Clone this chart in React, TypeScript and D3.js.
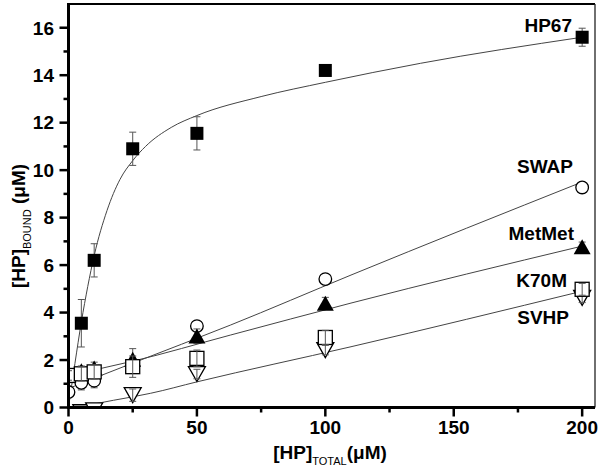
import React from "react";
import * as d3 from "d3";

// ---- data ----
const HP67_X = [5, 10, 25, 50, 100, 200];
const HP67_Y = [3.55, 6.2, 10.9, 11.55, 14.2, 15.6];
const HP67_ERR = [1.0, 0.7, 0.7, 0.7, 0.2, 0.38];

const SWAP_X = [0, 5, 10, 25, 50, 100, 200];
const SWAP_Y = [0.65, 1.04, 1.13, 1.75, 3.43, 5.41, 9.27];
const SWAP_ERR = [0.2, 0.3, 0.3, 0.3, 0.2, 0.2, 0.15];

const METMET_X = [5, 10, 25, 50, 100, 200];
const METMET_Y = [1.55, 1.66, 2.03, 3.01, 4.39, 6.77];
const METMET_ERR = [0.2, 0.25, 0.45, 0.3, 0.25, 0.2];

const K70M_X = [0, 5, 10, 25, 50, 100, 200];
const K70M_Y = [1.35, 1.42, 1.5, 1.72, 2.07, 2.95, 4.98];
const K70M_ERR = [0.2, 0.3, 0.3, 0.45, 0.35, 0.3, 0.25];

const SVHP_X = [5, 10, 25, 50, 100, 200];
const SVHP_Y = [-0.2, -0.12, 0.52, 1.41, 2.42, 4.62];
const SVHP_ERR = [0.1, 0.1, 0.26, 0.2, 0.2, 0.2];

// fitted curves, read as points along the drawn lines
const FIT_HP67_X = [0, 2.5, 5, 7.5, 10, 15, 20, 25, 30, 40, 50, 75, 100, 137, 200];
const FIT_HP67_Y = [0, 1.85, 3.6, 5.1, 6.4, 8.3, 9.6, 10.4, 11.0, 11.8, 12.3, 13.1, 13.7, 14.5, 15.6];
const FIT_SWAP_X = [0, 12, 25, 63, 110, 200];
const FIT_SWAP_Y = [0.8, 1.32, 1.87, 3.47, 5.58, 9.5];
const FIT_METMET_X = [0, 12, 25, 63, 110, 200];
const FIT_METMET_Y = [1.3, 1.63, 1.95, 3.05, 4.4, 6.8];
const FIT_SVHP_X = [0, 5, 10, 25, 32, 50, 110, 200];
const FIT_SVHP_Y = [0, 0.03, 0.15, 0.45, 0.6, 1.08, 2.56, 4.9];

const X_TICKS = [0, 50, 100, 150, 200];
const X_MINOR = [25, 75, 125, 175];
const Y_TICKS = [0, 2, 4, 6, 8, 10, 12, 14, 16];
const Y_MINOR = [1, 3, 5, 7, 9, 11, 13, 15];

const SERIES_NAMES = ["HP67", "SWAP", "MetMet", "K70M", "SVHP"];

const FONT = "'Liberation Sans', Arial, sans-serif";

type Pt = { x: number; y: number; e: number };
const zipPts = (xs: number[], ys: number[], es: number[]): Pt[] =>
  xs.map((x, i) => ({ x, y: ys[i], e: es[i] }));
const zipLine = (xs: number[], ys: number[]): [number, number][] =>
  xs.map((x, i) => [x, ys[i]]);

export default function App() {
  const W = 600;
  const H = 470;
  const left = 68.5;
  const right = 595;
  const top = 4;
  const bottom = 407.5;

  const x = d3.scaleLinear().domain([0, 205]).range([left, right]);
  const y = d3.scaleLinear().domain([0, 17]).range([bottom, top]);

  const line = d3
    .line<[number, number]>()
    .x((d) => x(d[0]))
    .y((d) => y(d[1]))
    .curve(d3.curveMonotoneX);

  const fits = [
    zipLine(FIT_HP67_X, FIT_HP67_Y),
    zipLine(FIT_SWAP_X, FIT_SWAP_Y),
    zipLine(FIT_METMET_X, FIT_METMET_Y),
    zipLine(FIT_SVHP_X, FIT_SVHP_Y),
  ];

  const hp67 = zipPts(HP67_X, HP67_Y, HP67_ERR);
  const swap = zipPts(SWAP_X, SWAP_Y, SWAP_ERR);
  const metmet = zipPts(METMET_X, METMET_Y, METMET_ERR);
  const k70m = zipPts(K70M_X, K70M_Y, K70M_ERR);
  const svhp = zipPts(SVHP_X, SVHP_Y, SVHP_ERR);

  const errBar = (p: Pt, key: string) => {
    const cx = x(p.x);
    const y1 = y(p.y + p.e);
    const y2 = y(p.y - p.e);
    return (
      <g key={key} stroke="#555" strokeWidth={1}>
        <line x1={cx} x2={cx} y1={y1} y2={y2} />
        <line x1={cx - 3.5} x2={cx + 3.5} y1={y1} y2={y1} />
        <line x1={cx - 3.5} x2={cx + 3.5} y1={y2} y2={y2} />
      </g>
    );
  };

  const tri = (cx: number, cy: number, w: number, h: number, up: boolean) =>
    up
      ? `M${cx - w / 2},${cy + h / 2}L${cx + w / 2},${cy + h / 2}L${cx},${cy - h / 2}Z`
      : `M${cx - w / 2},${cy - h / 2}L${cx + w / 2},${cy - h / 2}L${cx},${cy + h / 2}Z`;

  const labelPos: Record<string, [number, number]> = {
    HP67: [572, 32],
    SWAP: [573, 173],
    MetMet: [574, 240],
    K70M: [567, 287],
    SVHP: [569, 324],
  };

  return (
    <svg
      width={W}
      height={H}
      style={{ position: "absolute", left: 0, top: 0, background: "#fff" }}
      fontFamily={FONT}
    >
      <rect x={0} y={0} width={W} height={H} fill="#fff" />
      <defs>
        <clipPath id="plotClip">
          <rect x={left} y={top} width={right - left} height={bottom - top} />
        </clipPath>
      </defs>

      <g clipPath="url(#plotClip)">
        {fits.map((f, i) => (
          <path key={"fit" + i} d={line(f) || ""} fill="none" stroke="#444" strokeWidth={1} />
        ))}

        {/* HP67 filled squares */}
        {hp67.map((p, i) => errBar(p, "e1" + i))}
        {hp67.map((p, i) => (
          <rect key={"m1" + i} x={x(p.x) - 6.5} y={y(p.y) - 6.5} width={13} height={13} fill="#000" />
        ))}

        {/* SWAP open circles */}
        {swap.map((p, i) => errBar(p, "e2" + i))}
        {swap.map((p, i) => (
          <circle key={"m2" + i} cx={x(p.x)} cy={y(p.y)} r={6.3} fill="#fff" stroke="#000" strokeWidth={1.3} />
        ))}

        {/* MetMet filled triangles */}
        {metmet.map((p, i) => errBar(p, "e3" + i))}
        {metmet.map((p, i) => (
          <path key={"m3" + i} d={tri(x(p.x), y(p.y), 17, 15, true)} fill="#000" />
        ))}

        {/* SVHP open inverted triangles */}
        {svhp.map((p, i) => (
          <path key={"m5" + i} d={tri(x(p.x), y(p.y), 17, 15, false)} fill="#fff" stroke="#000" strokeWidth={1.3} />
        ))}
        {svhp.map((p, i) => errBar(p, "e5" + i))}

        {/* K70M open squares */}
        {k70m.map((p, i) => (
          <rect key={"m4" + i} x={x(p.x) - 7} y={y(p.y) - 7} width={14} height={14} fill="#fff" stroke="#000" strokeWidth={1.3} />
        ))}
        {k70m.map((p, i) => errBar(p, "e4" + i))}
      </g>

      {/* frame */}
      <line x1={left} x2={right} y1={top} y2={top} stroke="#000" strokeWidth={1.8} />
      <line x1={right} x2={right} y1={top} y2={bottom} stroke="#222" strokeWidth={1.3} />
      <line x1={left} x2={left} y1={top - 0.9} y2={bottom + 1.5} stroke="#000" strokeWidth={3} />
      <line x1={left - 1.5} x2={right} y1={bottom} y2={bottom} stroke="#000" strokeWidth={3} />

      {/* y ticks */}
      {Y_TICKS.map((t) => (
        <g key={"yt" + t}>
          <line x1={left - 9} x2={left} y1={y(t)} y2={y(t)} stroke="#000" strokeWidth={2.5} />
          <text x={54} y={y(t) + 6.8} textAnchor="end" fontSize={19} fontWeight="bold">
            {t}
          </text>
        </g>
      ))}
      {Y_MINOR.map((t) => (
        <line key={"ym" + t} x1={left - 5} x2={left} y1={y(t)} y2={y(t)} stroke="#000" strokeWidth={2.5} />
      ))}

      {/* x ticks */}
      {X_TICKS.map((t) => (
        <g key={"xt" + t}>
          <line x1={x(t)} x2={x(t)} y1={bottom} y2={bottom + 9} stroke="#000" strokeWidth={2.5} />
          <text x={x(t)} y={434} textAnchor="middle" fontSize={19} fontWeight="bold">
            {t}
          </text>
        </g>
      ))}
      {X_MINOR.map((t) => (
        <line key={"xm" + t} x1={x(t)} x2={x(t)} y1={bottom} y2={bottom + 5} stroke="#000" strokeWidth={2.5} />
      ))}

      {/* series labels */}
      {SERIES_NAMES.map((n) => (
        <text key={"lab" + n} x={labelPos[n][0]} y={labelPos[n][1]} textAnchor="end" fontSize={19} fontWeight="bold">
          {n}
        </text>
      ))}

      {/* x title */}
      <text x={330} y={459} textAnchor="middle" fontSize={19} fontWeight="bold">
        <tspan>[HP]</tspan>
        <tspan fontSize={11} fontWeight="normal" dy={6}>TOTAL</tspan>
        <tspan dy={-6}>(μM)</tspan>
      </text>

      {/* y title */}
      <text
        transform="translate(25,226) rotate(-90)"
        textAnchor="middle"
        fontSize={19}
        fontWeight="bold"
      >
        <tspan>[HP]</tspan>
        <tspan fontSize={11} fontWeight="normal" dy={6}>BOUND</tspan>
        <tspan dy={-6}> (μM)</tspan>
      </text>
    </svg>
  );
}
